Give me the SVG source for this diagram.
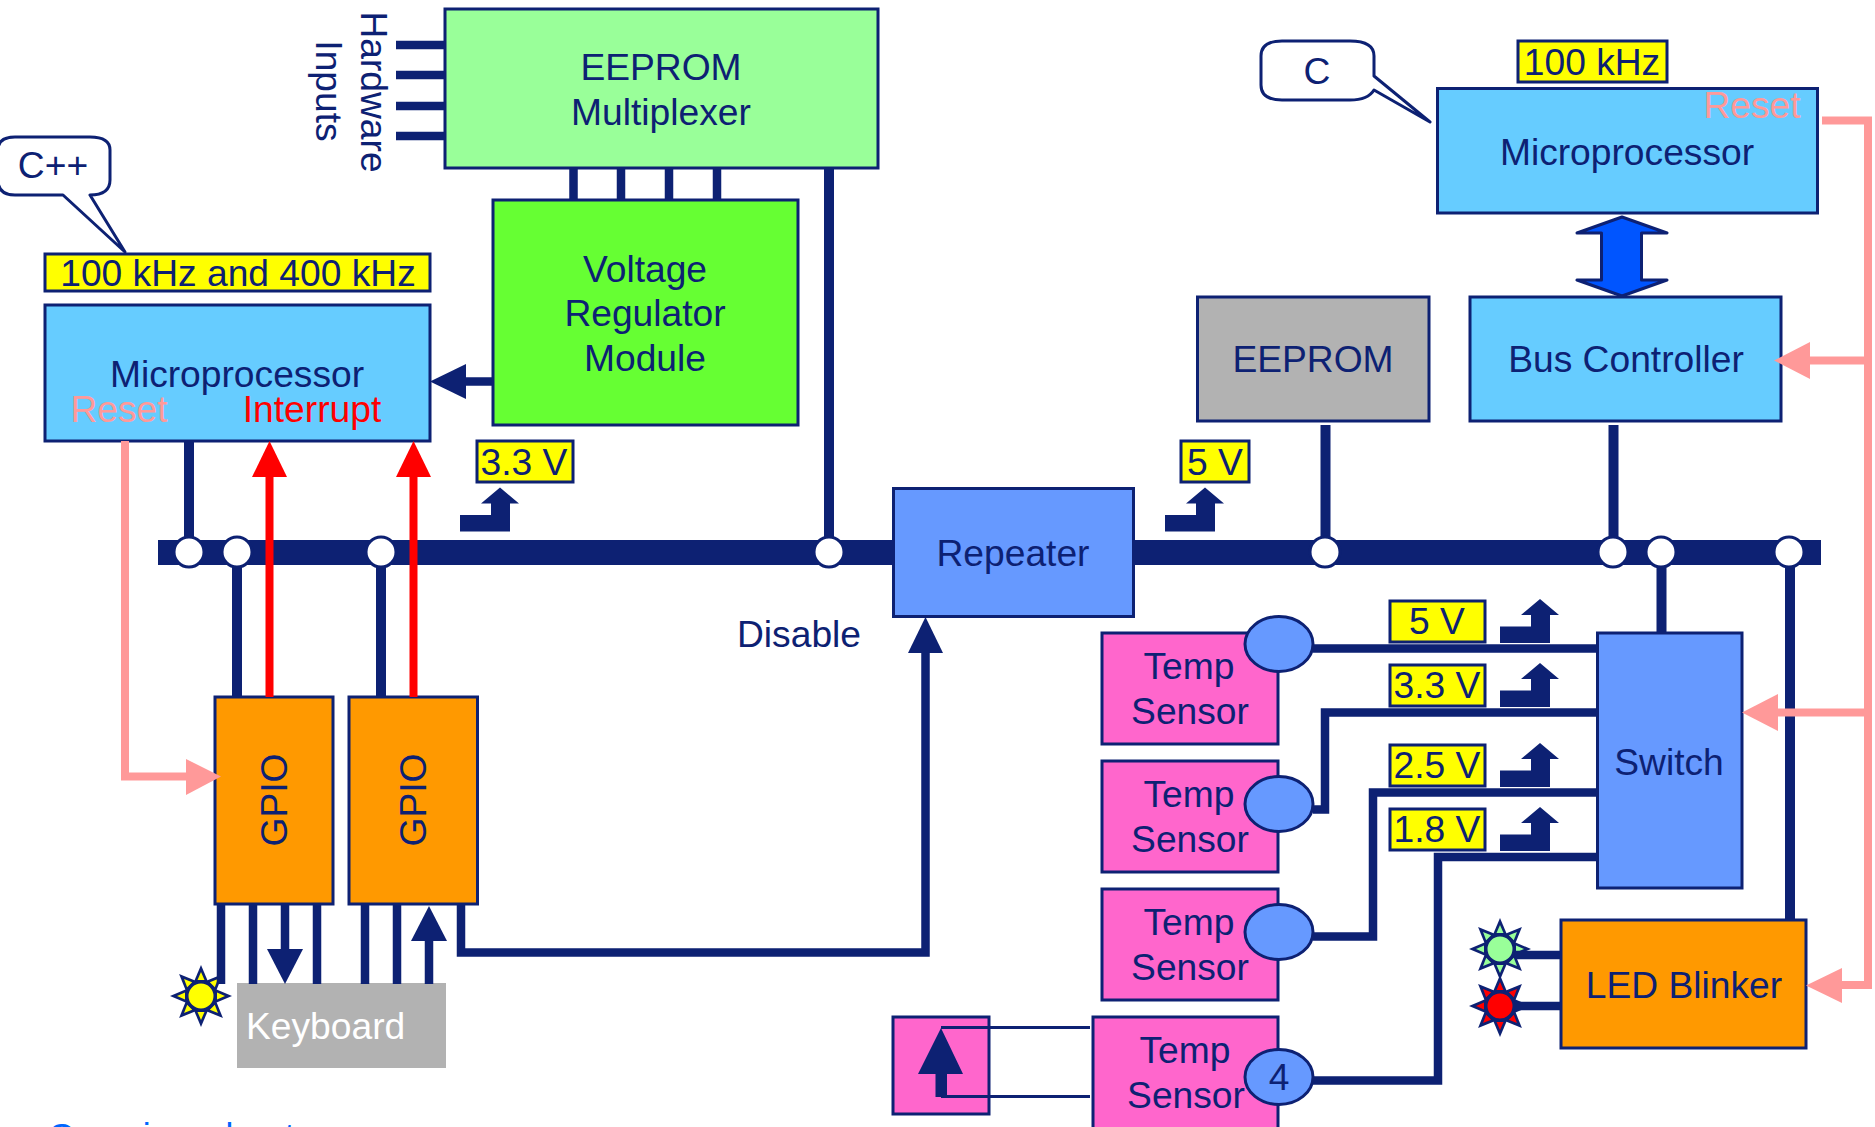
<svg xmlns="http://www.w3.org/2000/svg" xmlns:xlink="http://www.w3.org/1999/xlink" width="1875" height="1127" viewBox="0 0 1875 1127">
<style>
text{font-family:"Liberation Sans",Arial,sans-serif;font-size:37.2px;fill:#0d2173;text-anchor:middle}
.box{stroke:#0d2173;stroke-width:3}
.mux{fill:#99ff99}.vr{fill:#66ff33}.mp{fill:#66ccff}.gpio{fill:#ff9900}.gray{fill:#b2b2b2}.temp{fill:#ff66cc}.blue{fill:#6699ff}.yl{fill:#ffff00}
.bub{fill:#fff;stroke:#0d2173;stroke-width:3;stroke-linejoin:round}
.w{fill:none;stroke:#0d2173;stroke-width:8.500}
.w10{fill:none;stroke:#0d2173;stroke-width:10}
.thin{fill:none;stroke:#0d2173;stroke-width:3}
.pk{fill:none;stroke:#ff9999;stroke-width:8}
.rd{fill:none;stroke:#ff0000;stroke-width:8}
.nav{fill:#0d2173}.pkf{fill:#ff9999}.rdf{fill:#ff0000}
.j{fill:#fff;stroke:#0d2173;stroke-width:3}
.start{text-anchor:start}
</style>
<defs>
<polygon id="step" class="nav" points="0,-16.500 31,-16.500 31,-28 21,-28 40,-44 59,-28 50,-28 50,0 0,0"/>
<g id="ray"><polygon class="nav" points="0,-31 8,-12 -8,-12"/><polygon fill="currentColor" points="0,-24 3.500,-16 -3.500,-16"/></g>
<g id="sun">
<use xlink:href="#ray"/><use xlink:href="#ray" transform="rotate(45)"/><use xlink:href="#ray" transform="rotate(90)"/><use xlink:href="#ray" transform="rotate(135)"/><use xlink:href="#ray" transform="rotate(180)"/><use xlink:href="#ray" transform="rotate(225)"/><use xlink:href="#ray" transform="rotate(270)"/><use xlink:href="#ray" transform="rotate(315)"/>
<circle r="14" fill="currentColor" stroke="#0d2173" stroke-width="3"/>
</g>
</defs>
<rect width="1875" height="1127" fill="#fff"/>

<g id="eeprom-mux"><rect class="box mux" x="445" y="9" width="433" height="159"/><text x="661" y="80">EEPROM</text><text x="661" y="125">Multiplexer</text></g>
<g id="hardware-inputs"><text transform="translate(361,92) rotate(90)">Hardware</text><text transform="translate(316,91) rotate(90)">Inputs</text></g>
<g id="voltage-regulator"><rect class="box vr" x="493" y="200" width="305" height="225"/><text x="645" y="282">Voltage</text><text x="645" y="326">Regulator</text><text x="645" y="371">Module</text></g>
<g id="cpp-bubble"><path class="bub" d="M63 195 L125 252 L90 195 Q110 195 110 180 V150 Q110 137 90 137 H15 Q-2 137 -2 150 V180 Q-2 195 15 195 Z"/><text x="53" y="178">C++</text></g>
<g id="label-100-400"><rect class="box yl" x="45" y="254" width="385" height="37"/><text x="238" y="286">100 kHz and 400 kHz</text></g>
<g id="microprocessor-left"><rect class="box mp" x="45" y="305" width="385" height="136"/><text x="237" y="387">Microprocessor</text><text x="119" y="422" style="fill:#ff9999">Reset</text><text x="312" y="422" style="fill:#ff0000">Interrupt</text></g>
<g id="label-33-top"><rect class="box yl" x="477" y="441" width="96" height="41"/><text x="524" y="475">3.3 V</text></g>
<g id="gpio-1"><rect class="box gpio" x="215" y="697" width="118" height="207"/><text transform="translate(287,800) rotate(-90)">GPIO</text></g>
<g id="gpio-2"><rect class="box gpio" x="349" y="697" width="128.500" height="207"/><text transform="translate(426,800) rotate(-90)">GPIO</text></g>
<g id="keyboard"><rect class="gray" x="237" y="983" width="209" height="85"/><text class="start" x="246" y="1039" style="fill:#fff">Keyboard</text></g>
<g id="led-yellow" color="#ffff00" transform="translate(201,996)"><use xlink:href="#sun"/></g>
<g id="repeater"><rect class="box blue" x="893.500" y="488.500" width="240" height="128"/><text x="1013" y="566">Repeater</text></g>
<g id="disable"><text x="799" y="647">Disable</text></g>
<g id="label-5-top"><rect class="box yl" x="1181" y="441" width="68" height="41"/><text x="1215" y="475">5 V</text></g>
<g id="eeprom"><rect class="box gray" x="1197.500" y="297" width="231.500" height="124"/><text x="1313" y="372">EEPROM</text></g>
<g id="bus-controller"><rect class="box mp" x="1470" y="297" width="311" height="124"/><text x="1626" y="372">Bus Controller</text></g>
<g id="microprocessor-right"><rect class="box mp" x="1437.500" y="88.500" width="380" height="124.500"/><text x="1627" y="165">Microprocessor</text><text x="1752" y="118" style="fill:#ff9999">Reset</text></g>
<g id="label-100"><rect class="box yl" x="1518" y="41" width="149" height="41"/><text x="1592" y="75">100 kHz</text></g>
<g id="c-bubble"><path class="bub" d="M1374 76 L1430 122 L1374 90 Q1368 100 1350 100 H1282 Q1261 100 1261 85 V56 Q1261 41 1282 41 H1350 Q1374 41 1374 56 Z"/><text x="1317" y="84">C</text></g>
<g id="switch"><rect class="box blue" x="1597.500" y="633" width="144.500" height="255"/><text x="1669" y="775">Switch</text></g>
<g id="led-blinker"><rect class="box gpio" x="1561" y="920" width="245" height="128"/><text x="1684" y="998">LED Blinker</text></g>
<g id="led-green" color="#99ff99" transform="translate(1500,949)"><use xlink:href="#sun"/></g>
<g id="led-red" color="#ff0000" transform="translate(1500,1006)"><use xlink:href="#sun"/></g>
<g id="temp-1"><rect class="box temp" x="1102" y="633" width="176" height="111"/><text x="1189" y="679">Temp</text><text x="1190" y="724">Sensor</text><ellipse class="box blue" cx="1279" cy="644" rx="34" ry="27.500"/></g>
<g id="temp-2"><rect class="box temp" x="1102" y="761" width="176" height="111"/><text x="1189" y="807">Temp</text><text x="1190" y="852">Sensor</text><ellipse class="box blue" cx="1279" cy="804" rx="34" ry="27.500"/></g>
<g id="temp-3"><rect class="box temp" x="1102" y="889" width="176" height="111"/><text x="1189" y="935">Temp</text><text x="1190" y="980">Sensor</text><ellipse class="box blue" cx="1279" cy="932" rx="34" ry="27.500"/></g>
<g id="temp-4"><rect class="box temp" x="1093" y="1017" width="185" height="125"/><text x="1185" y="1063">Temp</text><text x="1186" y="1108">Sensor</text><ellipse class="box blue" cx="1279" cy="1077" rx="34" ry="27.500"/><text x="1279" y="1090">4</text></g>
<g id="address-box"><rect class="box temp" x="893" y="1017" width="96" height="97"/></g>
<g id="label-5"><rect class="box yl" x="1390" y="601" width="95" height="41"/><text x="1437" y="634">5 V</text></g>
<g id="label-33"><rect class="box yl" x="1390" y="665" width="95" height="41"/><text x="1437" y="698">3.3 V</text></g>
<g id="label-25"><rect class="box yl" x="1390" y="745" width="95" height="41"/><text x="1437" y="778">2.5 V</text></g>
<g id="label-18"><rect class="box yl" x="1390" y="809" width="95" height="41"/><text x="1437" y="842">1.8 V</text></g>
<g id="overview"><text class="start" x="48" y="1148" style="fill:#0066ff;font-size:35.500px">Overview about</text></g>

<g id="connectors">
<path class="w" d="M396 45H445M396 75H445M396 106H445M396 136H445"/>
<path class="w" d="M573.500 168V200M621 168V200M669 168V200M717 168V200"/>
<rect class="nav" x="158" y="540" width="735" height="25"/>
<rect class="nav" x="1134" y="540" width="687" height="25"/>
<path class="w10" d="M829 168V552M189 441V552M237 552V697M381 552V697M1325.500 425V552M1613.500 425V552M1661.500 552V632M1790 552V921"/>
<path class="w" d="M493 381.500H455"/><polygon class="nav" points="430,381.500 466,364 466,399"/>
<path class="rd" d="M269.500 697V470M413.500 697V470"/>
<polygon class="rdf" points="269.500,441 287,477 252,477"/><polygon class="rdf" points="413.500,441 431,477 396,477"/>
<path class="pk" d="M125 441V776.500H195"/><polygon class="pkf" points="221,776.500 186,759 186,795"/>
<path class="w" d="M221 905V984M253 905V984M317 905V984M365 905V984M397 905V984M285 905V960M429 930V984"/>
<polygon class="nav" points="285,984 267,949 303,949"/><polygon class="nav" points="429,906 411,941 447,941"/>
<path class="w" d="M461 905V952.500H925.500V640"/><polygon class="nav" points="925.500,617 943,653 908,653"/>
<path class="w" d="M1313 648.500H1597M1597 712.500H1325V809.500H1313M1597 792.500H1373V936.500H1313M1597 857H1438V1080.500H1313"/>
<path class="w" d="M1515 955H1561M1515 1006H1561"/>
<path class="pk" d="M1822 120.500H1868V985H1830M1868 360.500H1800M1868 712.500H1770"/>
<polygon class="pkf" points="1774,360.500 1810,342 1810,379"/><polygon class="pkf" points="1742,712.500 1778,694 1778,731"/><polygon class="pkf" points="1806,985.500 1842,968 1842,1003"/>
<polygon fill="#0055ff" stroke="#0d2173" stroke-width="3" stroke-linejoin="round" points="1622,217 1667,233 1641.500,233 1641.500,280 1667,280 1622,296 1577,280 1601.500,280 1601.500,233 1577,233"/>
<polygon class="nav" points="941,1028 963,1074 947,1074 947,1097 935.500,1097 935.500,1074 918,1074"/>
<path class="thin" d="M941 1027.500H1090M941 1096.500H1090"/>
<circle class="j" cx="189" cy="552" r="15"/><circle class="j" cx="237" cy="552" r="15"/><circle class="j" cx="381" cy="552" r="15"/><circle class="j" cx="829" cy="552" r="15"/><circle class="j" cx="1325" cy="552" r="15"/><circle class="j" cx="1613" cy="552" r="15"/><circle class="j" cx="1661" cy="552" r="15"/><circle class="j" cx="1789" cy="552" r="15"/>
<use xlink:href="#step" x="460" y="531.500"/><use xlink:href="#step" x="1165" y="531.500"/><use xlink:href="#step" x="1500" y="643"/><use xlink:href="#step" x="1500" y="707"/><use xlink:href="#step" x="1500" y="787"/><use xlink:href="#step" x="1500" y="851"/>
</g>
</svg>
